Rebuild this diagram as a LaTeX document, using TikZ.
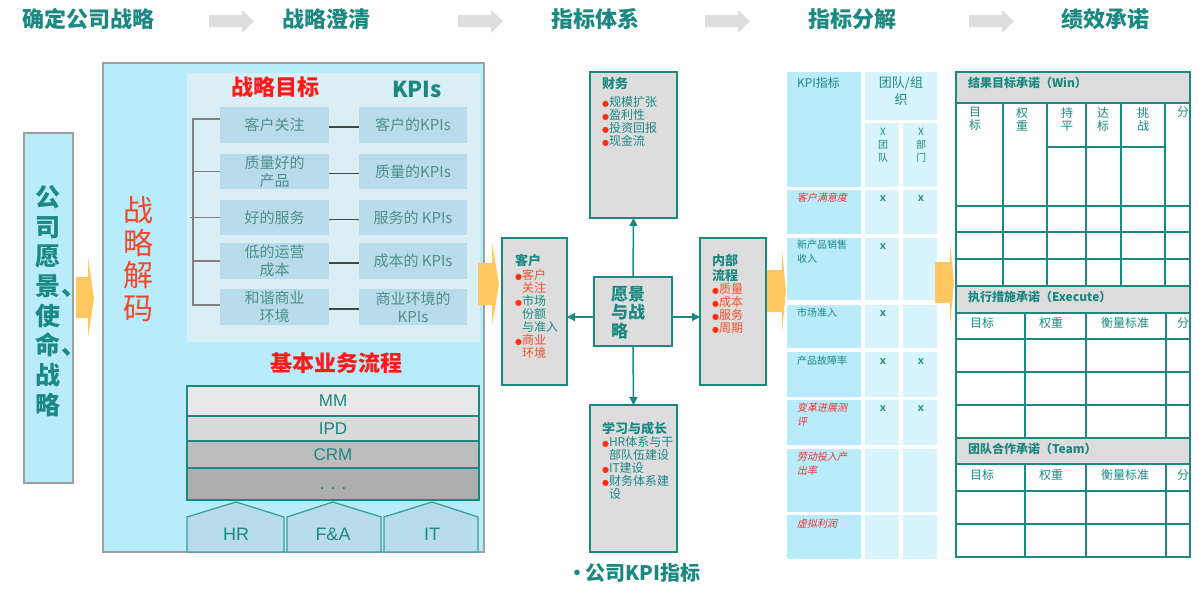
\documentclass[tikz,border=0pt]{standalone}
\usepackage{fontspec}
\setmainfont{Noto Sans CJK SC}
\newfontfamily\arialf{Liberation Sans}
\newfontfamily\dejavu{DejaVu Sans}
\newfontfamily\cjksl[FakeSlant=0.2]{Noto Sans CJK SC}
\usetikzlibrary{arrows.meta}
\definecolor{tealc}{HTML}{1B8982}
\definecolor{cyanbg}{HTML}{B9ECFB}
\definecolor{panelc}{HTML}{DAEEF6}
\definecolor{goalfill}{HTML}{B8DCEB}
\definecolor{goaltext}{HTML}{4F8F8F}
\definecolor{grayboxc}{HTML}{DDDDDD}
\definecolor{graybd}{HTML}{A0A0A0}
\definecolor{arrgray}{HTML}{DEDEDE}
\definecolor{orng}{HTML}{FFC760}
\definecolor{redA}{HTML}{FF1A1A}
\definecolor{redB}{HTML}{F5462A}
\definecolor{redC}{HTML}{F2502E}
\definecolor{bulred}{HTML}{FF3010}
\definecolor{kcA}{HTML}{B9EBFA}
\definecolor{kcB}{HTML}{D8F4FD}
\definecolor{kred}{HTML}{F03030}
\definecolor{hdrgray}{HTML}{DCDCDC}
\definecolor{linkdark}{HTML}{3A4A4A}
\definecolor{brkgray}{HTML}{808080}
\definecolor{housebd}{HTML}{3E9E98}
\definecolor{barA}{HTML}{E8E8E8}
\definecolor{barB}{HTML}{DADADA}
\definecolor{barC}{HTML}{BDBDBD}
\definecolor{barD}{HTML}{ADADAD}
\newcommand\fsz[2]{\fontsize{#1}{#2}\selectfont}
\newcommand\blt{\makebox[7pt][l]{\textcolor{bulred}{\dejavu\fsz{8}{8}●}}}
\newcommand\indt{\hspace*{7pt}}
\newcommand\bt[1]{{\fsz{13}{13}\bfseries #1}}
\begin{document}
\begin{tikzpicture}[x=1pt,y=-1pt,
  every node/.style={inner sep=0pt, outer sep=0pt},
  hdr/.style={text=tealc, font=\fsz{22}{22}\bfseries},
  gbox/.style={fill=goalfill, text=goaltext, align=center, font=\fsz{15}{18}},
  link/.style={draw=linkdark, line width=1.5},
  brk/.style={draw=brkgray, line width=1.2},
  bar/.style={draw=tealc, line width=1.5, text=tealc, font=\arialf\fsz{17}{17}, minimum width=292, anchor=north west},
  house/.style={fill=goalfill, draw=housebd, line width=1.3},
  hlabel/.style={text=tealc, font=\arialf\fsz{18}{18}},
  bsc/.style={fill=grayboxc, draw=tealc, line width=1.6, anchor=north west},
  bsctext/.style={text=tealc, align=left, anchor=north west, font=\fsz{12}{13}},
  arr/.style={draw=tealc, line width=1.5, -{Triangle[length=8pt,width=8pt]}},
  ktext/.style={font=\fsz{10}{14}, text=tealc, align=left, anchor=north west},
  kredt/.style={font=\cjksl\fsz{10}{14}, text=kred, align=left, anchor=north west},
  xm/.style={font=\arialf\fsz{11}{11}\bfseries, text=tealc},
  tline/.style={draw=tealc, line width=1.4},
  ttext/.style={text=tealc, font=\fsz{12}{13}, align=center},
  ttitle/.style={text=tealc, font=\fsz{12}{13}\bfseries, anchor=west}
]
\useasboundingbox (0,0) rectangle (1199,597);
\fill[white] (0,0) rectangle (1199,597);

% ---------- header row ----------
\foreach \x/\t/\n in {88/确定公司战略/h1, 326/战略澄清/h2, 595/指标体系/h3, 852/指标分解/h4, 1105/绩效承诺/h5}
  \node[hdr] (\n) at (\x,19) {\t};
\foreach \x in {209,458,705,969}
  \fill[arrgray] (\x,15) -- ++(33,0) -- ++(0,-5) -- ++(12,11) -- ++(-12,12) -- ++(0,-6) -- ++(-33,0) -- cycle;

% ---------- vision box ----------
\node[draw=graybd, fill=cyanbg, line width=1.2, minimum width=49, minimum height=350, anchor=north west] (vision) at (24,133) {};
\node[text=tealc, font=\fsz{25}{29.7}\bfseries, align=center] (visiont) at (48,301)
  {公\\司\\愿\\景\rlap{\hspace{1pt}、}\\使\\命\rlap{\hspace{1pt}、}\\战\\略};
\fill[orng] (76,277) -- (88,277) -- (88,257) -- (94,298) -- (88,338) -- (88,318) -- (76,318) -- cycle;

% ---------- strategy decoding box ----------
\node[draw=graybd, fill=cyanbg, line width=1.2, minimum width=381, minimum height=489, anchor=north west] (decode) at (103,63) {};
\node[fill=panelc, minimum width=293, minimum height=269, anchor=north west] (panel) at (187,73) {};
\node[text=redB, font=\fsz{30}{32.7}, align=center] (decodet) at (138,259) {战\\略\\解\\码};
\node[text=redA, font=\fsz{22}{22}\bfseries] (goalhd) at (275,87) {战略目标};
\node[text=tealc, font=\fsz{22}{22}\bfseries] (kpihd) at (417,89) {KPIs};

\node[gbox, minimum width=109, minimum height=36] (g1) at (274.5,125) {客户关注};
\node[gbox, minimum width=109, minimum height=35] (g2) at (274.5,171.5) {质量好的\\产品};
\node[gbox, minimum width=109, minimum height=35] (g3) at (274.5,217.5) {好的服务};
\node[gbox, minimum width=109, minimum height=36] (g4) at (274.5,261) {低的运营\\成本};
\node[gbox, minimum width=109, minimum height=36] (g5) at (274.5,307) {和谐商业\\环境};
\node[gbox, minimum width=108, minimum height=36] (k1) at (413,125) {客户的KPIs};
\node[gbox, minimum width=108, minimum height=35] (k2) at (413,171.5) {质量的KPIs};
\node[gbox, minimum width=108, minimum height=35] (k3) at (413,217.5) {服务的 KPIs};
\node[gbox, minimum width=108, minimum height=36] (k4) at (413,261) {成本的 KPIs};
\node[gbox, minimum width=108, minimum height=36] (k5) at (413,307) {商业环境的\\KPIs};
\foreach \i in {1,...,5} \draw[link] ([yshift=-2pt]g\i.east) -- ([yshift=-2pt]k\i.east -| k\i.west);
\draw[brk] ([yshift=6pt]g1.west) -- ++(-27,0) |- ([yshift=2pt]g5.west);
\draw[brk] (g2.west) -- ++(-27,0);
\draw[brk] (g3.west) -- ++(-30,0);
\draw[brk] (g4.west) -- ++(-27,0);

\node[text=redA, font=\fsz{22}{22}\bfseries] (bizhd) at (336,363) {基本业务流程};
\node[bar, fill=barA, minimum height=30] (mm) at (187,386) {MM};
\node[bar, fill=barB, minimum height=25] (ipd) at (187,416) {IPD};
\node[bar, fill=barC, minimum height=27] (crm) at (187,441) {CRM};
\node[bar, fill=barD, minimum height=32] (more) at (187,468) {};
\node[text=tealc, font=\arialf\fsz{17}{17}] (moret) at (333,489) {. . .};

\draw[house] (187,552) -- (187,517) -- (236,502) -- (284,517) -- (284,552) -- cycle;
\draw[house] (287,552) -- (287,517) -- (333,502) -- (381,517) -- (381,552) -- cycle;
\draw[house] (384,552) -- (384,517) -- (432,502) -- (478,517) -- (478,552) -- cycle;
\node[hlabel] (hr) at (236,534) {HR};
\node[hlabel] (fa) at (333,534) {F\&A};
\node[hlabel] (it) at (432,534) {IT};

\fill[orng] (478,263) -- (492,263) -- (492,243) -- (499,284) -- (492,325) -- (492,305) -- (478,305) -- cycle;

% ---------- balanced scorecard ----------
\node[bsc, minimum width=87, minimum height=146] (fin) at (590,72) {};
\node[bsc, minimum width=65, minimum height=147] (cust) at (502,238) {};
\node[bsc, minimum width=78, minimum height=69] (vs) at (594,277) {};
\node[bsc, minimum width=66, minimum height=147] (intp) at (700,238) {};
\node[bsc, minimum width=87, minimum height=147] (learn) at (590,405) {};

\node[bsctext] (fint) at (602,77) {\bt{财务}\\[5pt]\blt 规模扩张\\\blt 盈利性\\\blt 投资回报\\\blt 现金流};
\node[bsctext] (custt) at (515,254) {\bt{客户}\\[1pt]\blt\textcolor{redC}{客户}\\\indt\textcolor{redC}{关注}\\\blt 市场\\\indt 份额\\\indt 与准入\\\blt\textcolor{redC}{商业}\\\indt\textcolor{redC}{环境}};
\node[bsctext, font=\fsz{17}{18.5}\bfseries] (vst) at (611,286) {愿景\\与战\\略};
\node[bsctext] (intt) at (712,254) {\bt{内部}\\[2pt]\bt{流程}\\\blt\textcolor{redC}{质量}\\\blt\textcolor{redC}{成本}\\\blt\textcolor{redC}{服务}\\\blt\textcolor{redC}{周期}};
\node[bsctext] (learnt) at (602,422) {\bt{学习与成长}\\\blt HR体系与干\\\indt 部队伍建设\\\blt IT建设\\\blt 财务体系建\\\indt 设};

\draw[arr] (vs.north) -- (fin.south);
\draw[arr] (vs.south) -- (learn.north);
\coordinate (vsl) at ([yshift=-5.5pt]vs.west);
\coordinate (vsr) at ([yshift=-5.5pt]vs.east);
\draw[arr] (vsl) -- (vsl -| cust.east);
\draw[arr] (vsr) -- (vsr -| intp.west);

\node[text=tealc, font=\fsz{20}{20}\bfseries] (kpifoot) at (634,573) {•\kern-2pt 公司KPI指标};

\fill[orng] (767,270) -- (782,270) -- (782,250) -- (786,291) -- (782,332) -- (782,312) -- (767,312) -- cycle;

% ---------- KPI decomposition table ----------
\fill[kcA] (787,72) rectangle (861,187);
\fill[kcB] (865,72) rectangle (937,120);
\fill[kcB] (865,123) rectangle (899,187);
\fill[kcB] (903,123) rectangle (937,187);
\foreach \t/\b in {190/234, 238/300, 305/348, 352/397, 400/445, 449/512, 515/559} {
  \fill[kcA] (787,\t) rectangle (861,\b);
  \fill[kcB] (865,\t) rectangle (899,\b);
  \fill[kcB] (903,\t) rectangle (937,\b);
}
\node[ktext, font=\fsz{12}{12}, anchor=west] (kpit) at (797,83) {KPI指标};
\node[ttext, font=\fsz{13}{17}] (teamorg) at (901,91) {团队/组\\织};
\node[ttext, font=\fsz{10}{13}] (subA) at (883,145) {X\\团\\队};
\node[ttext, font=\fsz{10}{13}] (subB) at (921,145) {X\\部\\门};
\node[kredt] (r1) at (797,193) {客户满意度};
\node[ktext] (r2) at (797,240) {新产品销售\\收入};
\node[ktext] (r3) at (797,308) {市场准入};
\node[ktext] (r4) at (797,356) {产品故障率};
\node[kredt] (r5) at (797,403) {变革进展测\\评};
\node[kredt] (r6) at (797,452) {劳动投入产\\出率};
\node[kredt] (r7) at (797,519) {虚拟利润};
\foreach \x/\y in {883/199, 921/199, 883/247, 883/314, 883/362, 921/362, 883/409, 921/409}
  \node[xm] at (\x,\y) {x};

\fill[orng] (935,262) -- (950,262) -- (950,242) -- (954,283) -- (950,327) -- (950,303) -- (935,303) -- cycle;

% ---------- commitment table ----------
\fill[hdrgray] (956,72) rectangle (1190,103);
\fill[hdrgray] (956,286) rectangle (1190,313);
\fill[hdrgray] (956,438) rectangle (1190,464);
\draw[tline] (956,72) rectangle (1190,557);
\foreach \y in {103,206,232,259,286,313,339,372,405,438,464,491,524}
  \draw[tline] (956,\y) -- (1190,\y);
\foreach \x in {1003,1047,1086,1121,1165}
  \draw[tline] (\x,103) -- (\x,286);
\draw[tline] (1047,147) -- (1165,147);
\foreach \x in {1025,1086,1166} {
  \draw[tline] (\x,313) -- (\x,438);
  \draw[tline] (\x,464) -- (\x,557);
}
\node[ttitle] (win) at (968,83) {结果目标承诺（Win）};
\node[ttitle] (exe) at (968,297) {执行措施承诺（Execute）};
\node[ttitle] (team) at (968,449) {团队合作承诺（Team）};
\foreach \x/\t in {975/目\\标, 1022/权\\重, 1067/持\\平, 1103/达\\标, 1143/挑\\战}
  \node[ttext, anchor=north] at (\x,107) {\t};
\node[ttext, anchor=north] (winf) at (1183,107) {分};
\foreach \y in {323,475} {
  \node[ttext] at (982,\y) {目标};
  \node[ttext] at (1051,\y) {权重};
  \node[ttext] at (1125,\y) {衡量标准};
  \node[ttext] at (1183,\y) {分};
}
\end{tikzpicture}
\end{document}
